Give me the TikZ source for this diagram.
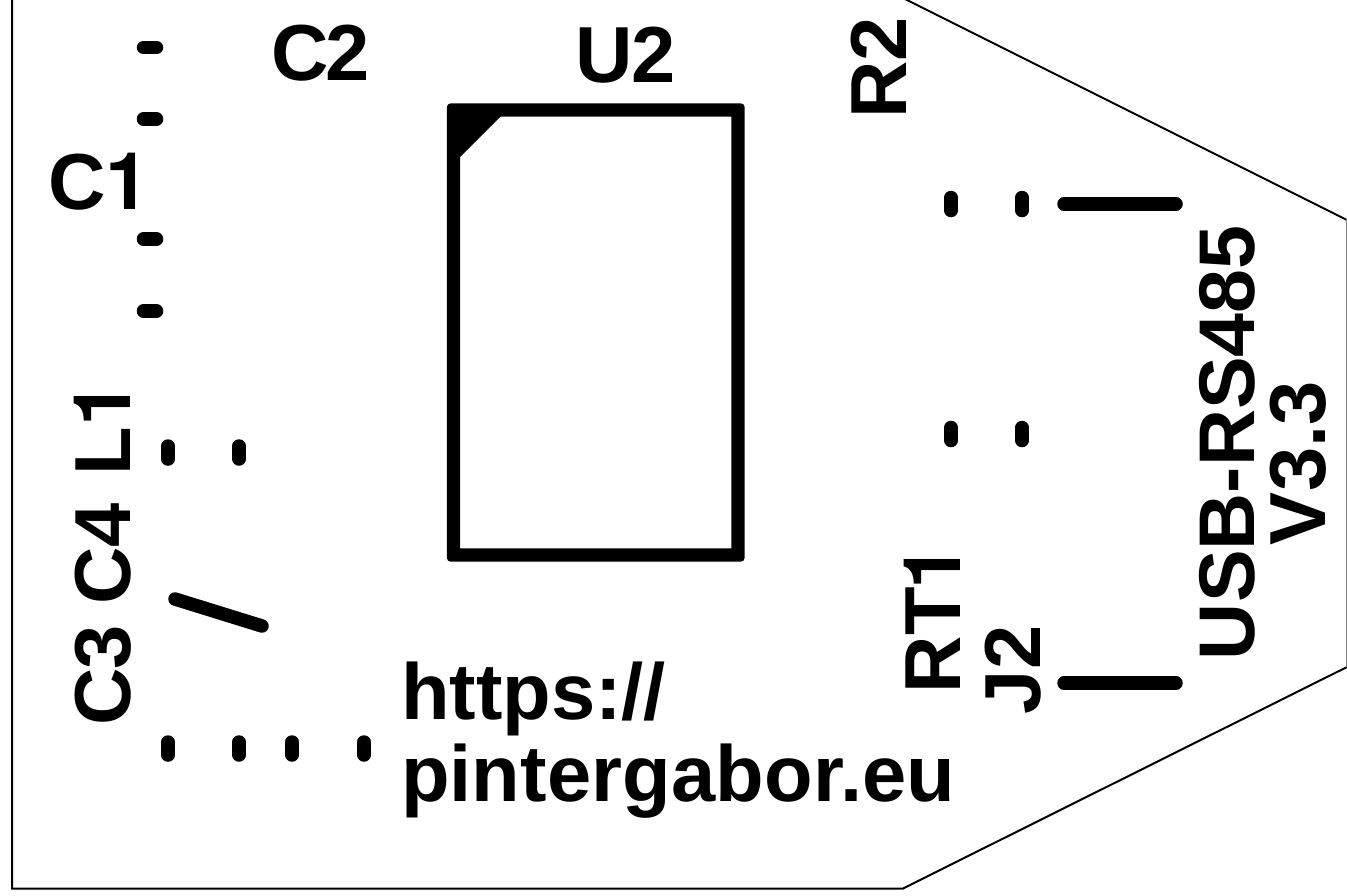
\documentclass[tikz,border=0pt]{standalone}
\usepackage{fontspec}
\setmainfont{Liberation Sans}[BoldFont={Liberation Sans Bold}]
\newfontfamily\onefont{TeX Gyre Heros}[BoldFont={* Bold}]
\newcommand{\plainone}{{\onefont\bfseries 1}}
\tikzset{
  lbl/.style={inner sep=0pt,outer sep=0pt,anchor=base west,font=\fontsize{79.5}{79.5}\selectfont\bfseries},
  lblr/.style={lbl,rotate=90},
  pad/.style={line width=13.5pt,line cap=round,black},
  outline/.style={line width=2pt,black,line join=miter}
}
\begin{document}
\begin{tikzpicture}[x=1pt,y=-1pt]
\useasboundingbox[fill=white] (0,0) rectangle (1347,895);
% board outline
\draw[outline] (12,-2) -- (12,888.5) -- (903,888.5) -- (1349,666);
\draw[outline] (903,-2) -- (1349,221);
\draw[line width=1pt,black!50] (1346.5,219) -- (1346.5,667);
% U2 body
\fill[black,even odd rule] [rounded corners=4pt] (446.8,103.3) rectangle (744.7,561.7) [sharp corners] (460.2,116.7) rectangle (731.3,548.3);
\fill[black] (453.5,110) -- (507,110) -- (453.5,163.5) -- cycle;
% pads
\foreach \y in {47.5,119,239,311} \draw[pad] (143.5,\y) -- (156.5,\y);
\foreach \x in {168,239} \draw[pad] (\x,446) -- (\x,459);
\foreach \x in {168,239,292,364} \draw[pad] (\x,742) -- (\x,755);
\foreach \x in {951,1022} {\draw[pad] (\x,197.5) -- (\x,210.5); \draw[pad] (\x,427.5) -- (\x,440.5);}
\draw[pad] (1064,204) -- (1176,204);
\draw[pad] (1064,683) -- (1176,683);
\draw[pad] (175,599) -- (262,626);
% labels
\node[lbl] (c2) at (271,80.5) {C\kern-2.5pt 2};
\node[lbl] (c1) at (48,209) {C\plainone};
\node[lbl] (u2) at (575,82) {U\kern-1pt 2};
\node[lblr] (r2) at (906,118) {R\kern-1pt 2};
\node[lblr] (l1) at (130,475) {L\plainone};
\node[lblr] (c4) at (130,604) {C\kern-1pt 4};
\node[lblr] (c3) at (130,725) {C\kern-1.5pt 3};
\node[lblr] (rt1) at (960,693) {RT\kern-2pt\plainone};
\node[lblr] (j2) at (1040,714) {J2};
\node[lblr,font=\fontsize{79}{79}\selectfont\bfseries] (usb) at (1254,660) {USB-RS485};
\node[lblr] (ver) at (1325,545) {V3.3};
\node[lbl] (web1) at (401,719) {https://};
\node[lbl,font=\fontsize{79.5}{79.5}\selectfont\bfseries\addfontfeature{LetterSpace=0.2}] (web2) at (401,801) {pintergabor.eu};
\end{tikzpicture}
\end{document}
